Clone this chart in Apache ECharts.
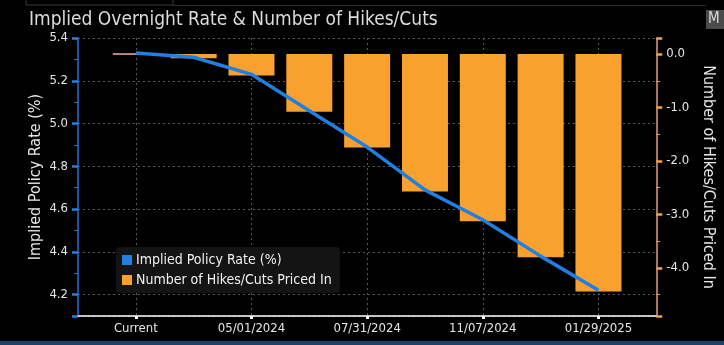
<!DOCTYPE html>
<html>
<head>
<meta charset="utf-8">
<script src="https://cdn.jsdelivr.net/npm/echarts@6/dist/echarts.min.js"></script>
<style>
  html, body { margin: 0; padding: 0; background: #000; }
  #chart { width: 724px; height: 345px; }
</style>
</head>
<body>
<div id="chart"></div>
<script>
// Meeting dates (first entry is today's rate)
const categories = ['Current', '03/20/2024', '05/01/2024', '06/12/2024', '07/31/2024',
                    '09/18/2024', '11/07/2024', '12/18/2024', '01/29/2025'];
// Implied policy rate, %
const impliedRate = [5.33, 5.31, 5.23, 5.06, 4.89, 4.69, 4.55, 4.38, 4.22];
// Cumulative number of 25bp hikes (+) / cuts (-) priced in
const hikesCuts = [0, -0.08, -0.40, -1.08, -1.75, -2.57, -3.13, -3.80, -4.44];

const FONT = '"DejaVu Sans Condensed", "Liberation Sans Narrow", "DejaVu Sans", sans-serif';
const BLUE = '#1f7fe3';
const ORANGE = '#f9a12e';

// pad the axis with an empty slot on each side so the first/last meetings sit inside
const axisCats = [''].concat(categories, ['']);
const pad = arr => ['-'].concat(arr, ['-']);
const showEveryOther = idx => idx % 2 === 1;

const barData = pad(hikesCuts.map((v, i) => i === 0
  ? { value: v, itemStyle: { borderColor: '#f0b4a4', borderWidth: 1 } }
  : v));

const chart = echarts.init(document.getElementById('chart'));
chart.setOption({
  backgroundColor: '#000',
  animation: false,
  textStyle: { fontFamily: FONT },
  title: {
    text: 'Implied Overnight Rate & Number of Hikes/Cuts',
    left: 24, top: 6,
    textStyle: { color: '#dcdcdc', fontSize: 19, fontWeight: 'normal', fontFamily: FONT }
  },
  legend: {
    orient: 'vertical',
    left: 116, top: 247,
    data: ['Implied Policy Rate (%)', 'Number of Hikes/Cuts Priced In'],
    itemWidth: 10, itemHeight: 10, itemGap: 6,
    icon: 'rect',
    backgroundColor: '#141414',
    borderRadius: 3,
    padding: [6, 8, 6, 6],
    textStyle: { color: '#f0f0f0', fontSize: 14, fontFamily: FONT, padding: [0, 0, 0, -1] }
  },
  grid: { left: 78, right: 62, top: 38, bottom: 29 },
  xAxis: {
    type: 'category',
    data: axisCats,
    boundaryGap: false,
    axisLine: { onZero: false, lineStyle: { color: '#ffffff', width: 1.5 } },
    axisTick: { interval: showEveryOther, length: 3, lineStyle: { color: '#ffffff', width: 3 } },
    axisLabel: { interval: showEveryOther, color: '#e6e6e6', fontSize: 13, margin: 6, fontFamily: FONT },
    splitLine: { show: true, interval: showEveryOther, lineStyle: { color: '#5a5a5a', type: [2, 3], width: 1 } }
  },
  yAxis: [
    {
      type: 'value',
      position: 'left',
      min: 4.1, max: 5.4, splitNumber: 6,
      name: 'Implied Policy Rate (%)',
      nameLocation: 'middle', nameGap: 34, nameMoveOverlap: false,
      nameTextStyle: { color: '#e6e6e6', fontSize: 16, fontFamily: FONT },
      axisLine: { show: true, onZero: false, lineStyle: { color: '#2272d6', width: 1.5 } },
      axisTick: { show: true, length: 6, lineStyle: { color: '#2a7fe6', width: 2.5 } },
      minorTick: { show: true, splitNumber: 2, length: 4, lineStyle: { color: '#2272d6', width: 1 } },
      axisLabel: { color: '#e6e6e6', fontSize: 13, margin: 10, showMinLabel: false, fontFamily: FONT,
                   formatter: v => v.toFixed(1) },
      splitLine: { show: true, lineStyle: { color: '#5a5a5a', type: [2, 3], width: 1 } }
    },
    {
      type: 'value',
      position: 'right',
      min: -4.9, max: 0.3, splitNumber: 5,
      name: 'Number of Hikes/Cuts Priced In',
      nameLocation: 'middle', nameGap: 40, nameRotate: -90,
      nameTextStyle: { color: '#e6e6e6', fontSize: 16, fontFamily: FONT },
      axisLine: { show: true, onZero: false, lineStyle: { color: '#e89a78', width: 1.5 } },
      axisTick: { show: true, length: 6, lineStyle: { color: '#f3a04a', width: 2.5 } },
      minorTick: { show: true, splitNumber: 2, length: 4, lineStyle: { color: '#e89a78', width: 1 } },
      axisLabel: { color: '#e6e6e6', fontSize: 13, margin: 10, showMinLabel: false, showMaxLabel: false,
                   fontFamily: FONT, formatter: v => v.toFixed(1) },
      splitLine: { show: false }
    }
  ],
  series: [
    {
      name: 'Number of Hikes/Cuts Priced In',
      type: 'bar',
      yAxisIndex: 1,
      data: barData,
      barWidth: 46,
      itemStyle: { color: ORANGE }
    },
    {
      name: 'Implied Policy Rate (%)',
      type: 'line',
      yAxisIndex: 0,
      data: pad(impliedRate),
      symbol: 'none',
      lineStyle: { color: BLUE, width: 3.5 },
      itemStyle: { color: BLUE },
      z: 5
    }
  ],
  graphic: [
    // terminal frame pieces
    { type: 'polyline', shape: { points: [[26, 0], [26, 5], [173, 5], [173, 0]] },
      style: { stroke: '#3a3a3a', lineWidth: 1, fill: null } },
    { type: 'line', shape: { x1: 173, y1: 5.5, x2: 706, y2: 5.5 }, style: { stroke: '#2a2a2a', lineWidth: 1 } },
    { type: 'rect', shape: { x: 706, y: 10, width: 18, height: 19 }, style: { fill: '#4a4a4a' } },
    { type: 'text', x: 708, y: 12, style: { text: 'M', fill: '#d8d8d8', fontSize: 15, fontFamily: FONT } },
    { type: 'rect', shape: { x: 0, y: 341, width: 724, height: 4 }, style: { fill: '#17426e' } }
  ]
});
</script>
</body>
</html>
